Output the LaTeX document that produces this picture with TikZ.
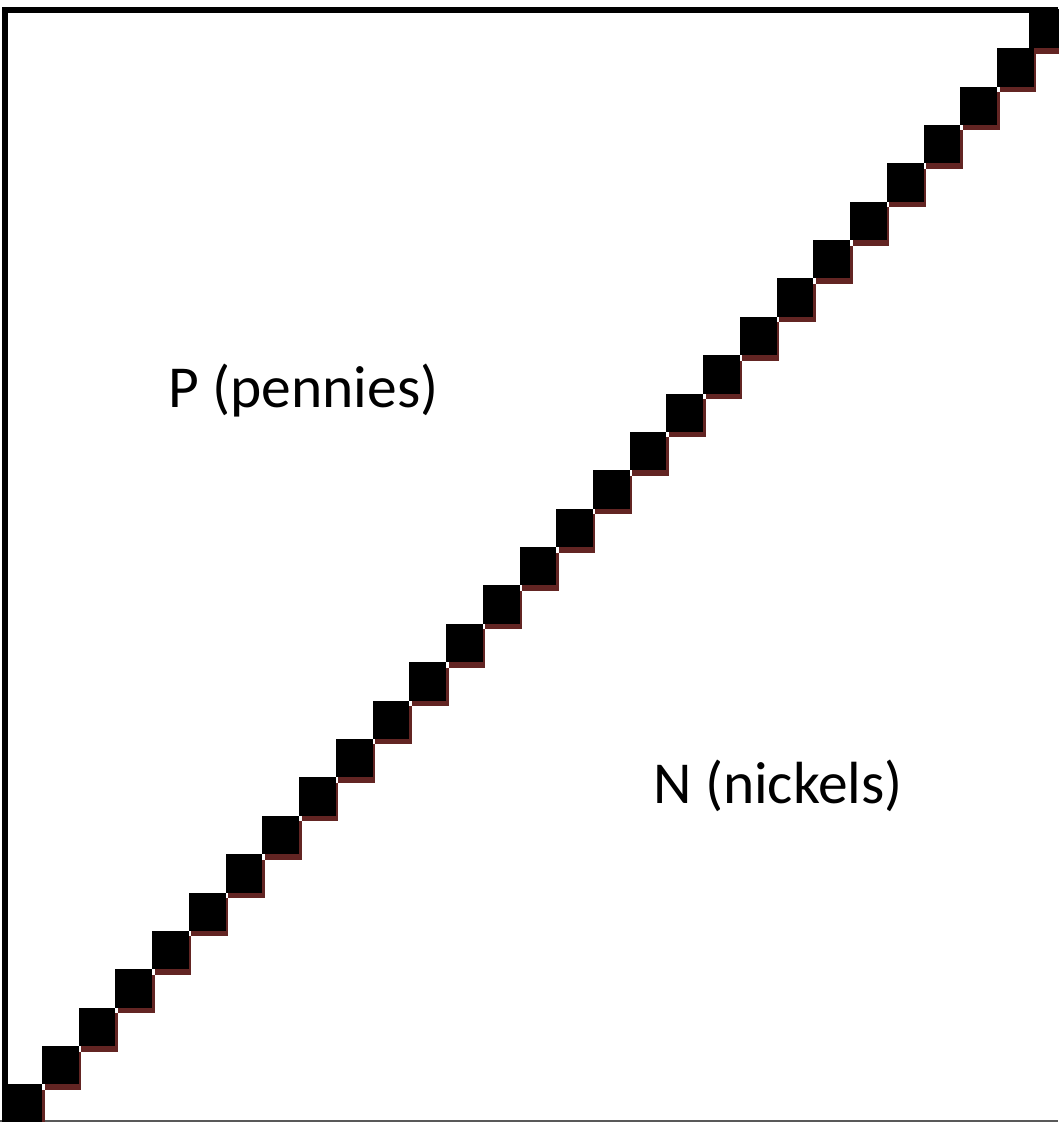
\documentclass[tikz,border=0pt]{standalone}
\usepackage{fontspec}
\setmainfont{Carlito}
\definecolor{shadowred}{HTML}{632523}
\begin{document}
\begin{tikzpicture}[x=1pt,y=-1pt,
  stepsq/.style={fill=black},
  stepshadow/.style={fill=shadowred},
  lbl/.style={font=\fontsize{59.5}{71}\selectfont, inner sep=0pt, anchor=base west}]
\useasboundingbox (0,0) rectangle (1058,1122);
% frame
\draw[black!65, line width=2pt] (0,1121) -- (1058,1121);
\draw[line width=6pt] (5,1122) -- (5,9.7) -- (1058,9.7);
% shadows
\foreach \n in {0,...,27} {
  \pgfmathsetmacro\xl{5.3+36.73*\n}
  \pgfmathsetmacro\yt{1084.4-38.38*\n}
  \fill[stepshadow] (\xl+2.5,\yt+5.5) rectangle ++(36.73,38.38);
}
\fill[stepshadow] (1031.5,15.3) rectangle (1070,53.6);
% squares
\foreach \n in {0,...,27} {
  \pgfmathsetmacro\xl{5.3+36.73*\n}
  \pgfmathsetmacro\yt{1084.4-38.38*\n}
  \fill[stepsq] (\xl,\yt) rectangle ++(36.73,38.38);
}
\fill[stepsq] (1029,9) rectangle (1070,48.1);
% labels
\node[lbl] (p) at (168,407) {P (pennies)};
\node[lbl] (n) at (653,803) {N (nickels)};
\end{tikzpicture}
\end{document}
